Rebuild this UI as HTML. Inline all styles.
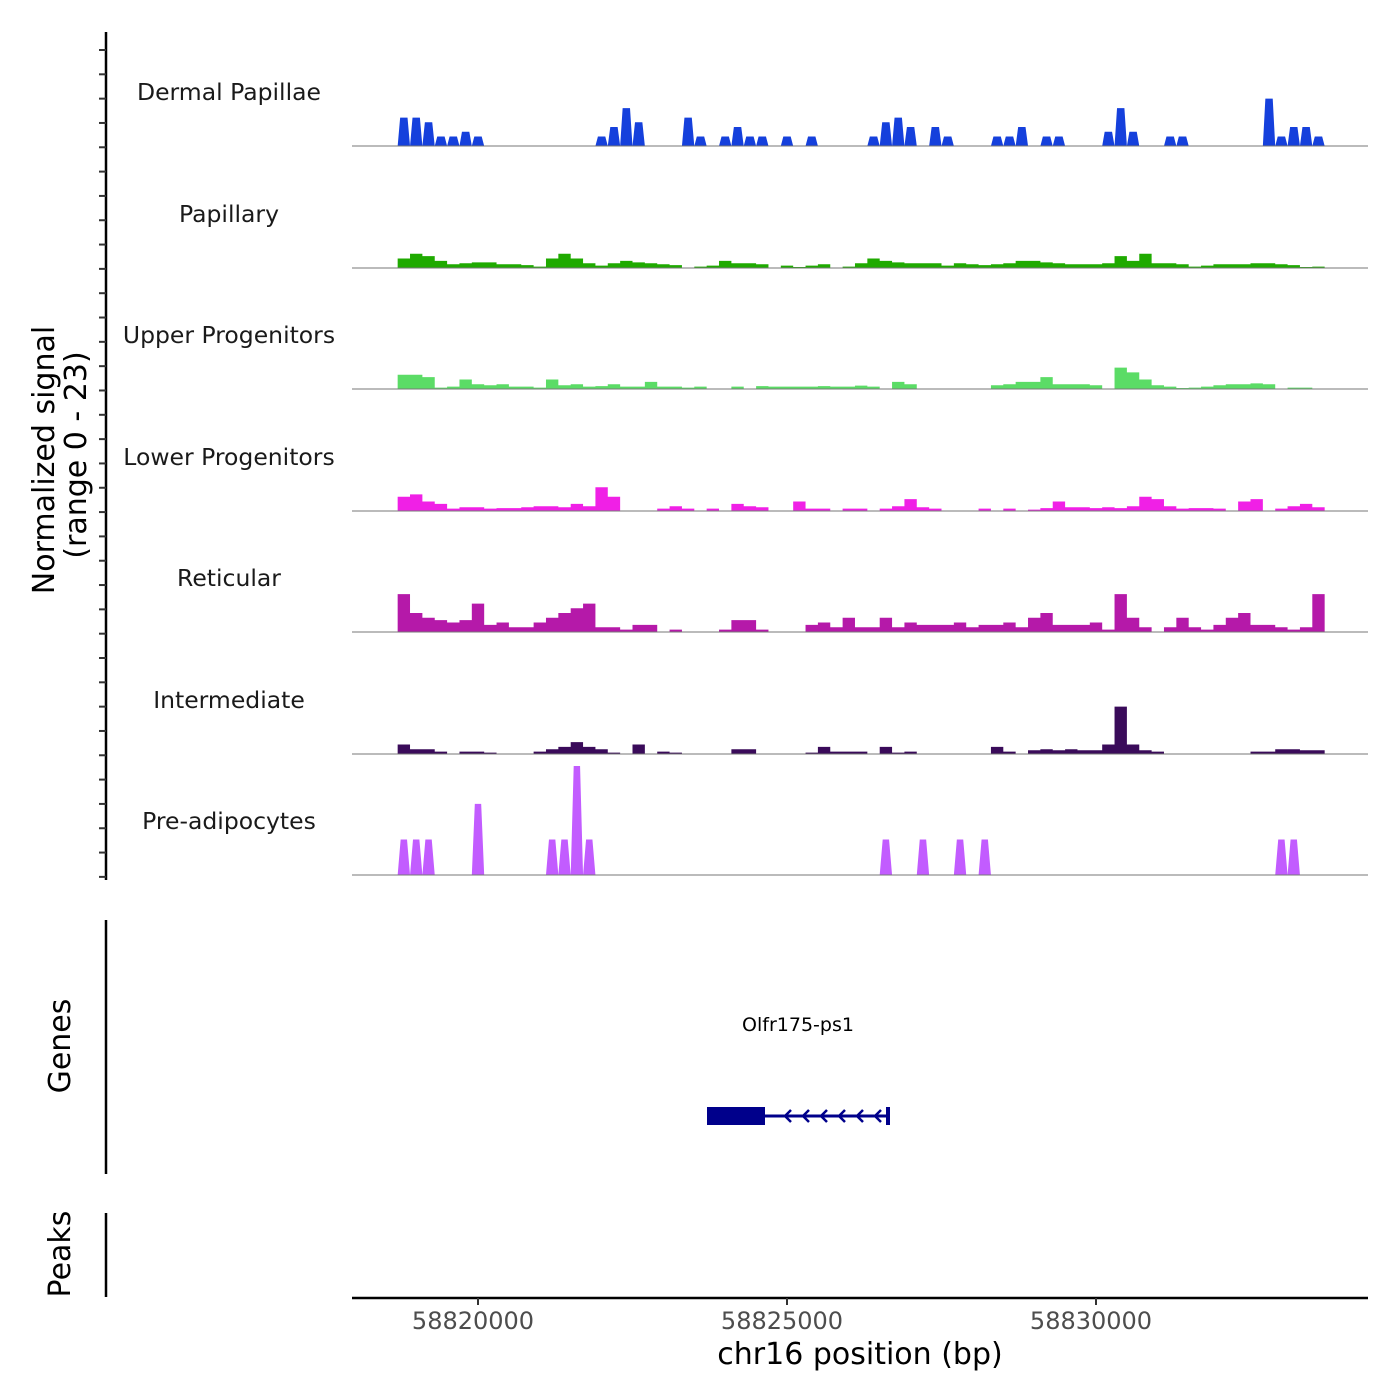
<!DOCTYPE html>
<html><head><meta charset="utf-8"><style>
body{margin:0;background:#fff;}
svg{display:block;font-family:"DejaVu Sans","Liberation Sans",sans-serif;}
</style></head><body>
<svg id="chart" width="1400" height="1400" viewBox="0 0 1400 1400" xmlns="http://www.w3.org/2000/svg">
<g id="left-axis"></g>
<text transform="translate(54,460) rotate(-90)" text-anchor="middle" font-size="30" fill="#000">Normalized signal</text>
<text transform="translate(86,455) rotate(-90)" text-anchor="middle" font-size="30" fill="#000">(range 0 - 23)</text>
<g id="tracks"></g>
<line x1="106" y1="920" x2="106" y2="1174" stroke="#000" stroke-width="2.5"/>
<text transform="translate(70,1046) rotate(-90)" text-anchor="middle" font-size="30" fill="#000">Genes</text>
<g>
<text x="798" y="1031" text-anchor="middle" font-size="19" fill="#000">Olfr175-ps1</text>
<rect x="707" y="1107" width="58" height="18" fill="#00008b"/>
<line x1="765" y1="1116" x2="888" y2="1116" stroke="#00008b" stroke-width="3"/>
<rect x="886" y="1107" width="4" height="18" fill="#00008b"/>
<g id="arrows"></g>
</g>
<line x1="106" y1="1213" x2="106" y2="1297" stroke="#000" stroke-width="2.5"/>
<text transform="translate(70,1254) rotate(-90)" text-anchor="middle" font-size="30" fill="#000">Peaks</text>
<g id="xaxis"></g>
<text x="860" y="1364" text-anchor="middle" font-size="30" fill="#000">chr16 position (bp)</text>
</svg>
<script>
const trackNames = ["Dermal Papillae","Papillary","Upper Progenitors","Lower Progenitors","Reticular","Intermediate","Pre-adipocytes"];
const trackColors = ["#1540dc","#1faa00","#5bdc66","#f020e6","#b519a9","#3a0b5a","#c25cff"];
const binStart = 58818700;
const binSize = 200;
const xTicks = [58820000,58825000,58830000];
const dermalPapillae = [6,6,5,2,2,3,2,0,0,0,0,0,0,0,0,0,2,4,8,5,0,0,0,6,2,0,2,4,2,2,0,2,0,2,0,0,0,0,2,5,6,4,0,4,2,0,0,0,2,2,4,0,2,2,0,0,0,3,8,3,0,0,2,2,0,0,0,0,0,0,10,2,4,4,2];
const papillary = [2,3,2.5,1.5,0.8,1,1.2,1.2,0.8,0.8,0.6,0.3,2,3,2,1,0.5,1,1.5,1.2,1,0.8,0.6,0,0.3,0.5,1.5,1,1,0.8,0,0.5,0.2,0.5,0.8,0,0.3,1,2,1.5,1.2,1,1,1,0.5,1,0.8,0.6,0.8,1,1.5,1.5,1.2,1,0.8,0.8,0.8,1,2.5,1.5,3,1,1,0.8,0.3,0.5,0.8,0.8,0.8,1,1,0.8,0.6,0.2,0.3];
const upperProgenitors = [3,3,2.5,0.3,0.5,2,1,0.8,1,0.5,0.5,0.3,2,0.8,1,0.5,0.6,1,0.5,0.5,1.5,0.5,0.5,0.3,0.5,0,0,0.5,0,0.6,0.5,0.5,0.5,0.5,0.6,0.5,0.5,0.7,0.5,0,1.5,1,0,0,0,0,0,0,0.8,1,1.5,1.5,2.5,1,1,1,0.8,0,4.5,3.5,2,0.8,0.5,0.2,0.3,0.5,0.8,1,1,1.2,1,0,0.3,0.3,0];
const lowerProgenitors = [3,3.5,2,1.5,0.5,0.8,0.8,0.5,0.6,0.6,0.8,1,1,0.8,1.5,1,5,3,0,0,0,0.5,1,0.5,0,0.5,0,1.5,1,0.8,0,0,2,0.5,0.5,0,0.5,0.5,0,0.5,1,2.5,0.8,0.5,0,0,0,0.5,0,0.5,0,0.3,0.6,2,0.8,0.8,0.6,0.8,0.6,1,3,2.5,1,0.5,0.6,0.6,0.5,0,2,2.5,0,0.5,1,1.5,0.8];
const reticular = [8,4,3,2.5,2,2.5,6,1.5,2,1,1,2,3,4,5,6,1,1,0.5,1.5,1.5,0,0.5,0,0,0,0.5,2.5,2.5,0.5,0,0,0,1.5,2,1,3,1,1,3,1,2,1.5,1.5,1.5,2,1,1.5,1.5,2,1,3,4,1.5,1.5,1.5,2,0.5,8,3,1,0,1,3,1,0.5,1.5,3,4,1.5,1.5,1,0.5,1,8];
const intermediate = [2,1,1,0.5,0,0.5,0.5,0.3,0,0,0,0.5,1,1.5,2.5,1.5,1,0.3,0,2,0,0.5,0.3,0,0,0,0,1,1,0,0,0,0,0.3,1.5,0.5,0.5,0.5,0,1.5,0.3,0.5,0,0,0,0,0,0,1.5,0.5,0,0.8,1,0.8,1,0.8,0.8,2,10,2,0.8,0.5,0,0,0,0,0,0,0,0.5,0.5,1,1,0.8,0.8];
const preAdipocytes = [7.5,7.5,7.5,0,0,0,15,0,0,0,0,0,7.5,7.5,23,7.5,0,0,0,0,0,0,0,0,0,0,0,0,0,0,0,0,0,0,0,0,0,0,0,7.5,0,0,7.5,0,0,7.5,0,7.5,0,0,0,0,0,0,0,0,0,0,0,0,0,0,0,0,0,0,0,0,0,0,0,7.5,7.5,0,0];
const seriesList = [dermalPapillae,papillary,upperProgenitors,lowerProgenitors,reticular,intermediate,preAdipocytes];

const NS="http://www.w3.org/2000/svg";
const X0=352, X1=1368;
const insets=[2.5,0,0,0,0,0,3];
function xScale(bp){return 478+(bp-58820000)*(309/5000);}
const baselines=[146,268,389,511,632,754,875];
function yScale(v,t){return baselines[t]-v*(109/23);}
function mk(tag,attrs,parent){const e=document.createElementNS(NS,tag);for(const k in attrs)e.setAttribute(k,attrs[k]);parent.appendChild(e);return e;}

const la=document.getElementById('left-axis');
const axl=mk('line',{x1:106,y1:32,x2:106,y2:880,stroke:'#000','stroke-width':2.5},la);


for(let y=50;y<=880;y+=24.32){
  const t=mk('line',{x1:99,y1:y,x2:106,y2:y,stroke:'#333','stroke-width':2},la);
  
  
}

const tg=document.getElementById('tracks');
seriesList.forEach((vals,t)=>{
  const g=mk('g',{},tg);
  
  
  const lab=mk('text',{x:229,y:baselines[t]-46,'text-anchor':'middle','font-size':23.5,fill:'#1a1a1a'},g);
  lab.textContent=trackNames[t];
  
  
  const ins=insets[t];
  let d='M'+xScale(binStart)+','+baselines[t];
  vals.forEach((v,i)=>{
    const xa=xScale(binStart+i*binSize), xb=xScale(binStart+(i+1)*binSize);
    const y=yScale(v,t);
    if(ins>0){
      d+=' L'+xa+','+baselines[t]+' L'+(xa+ins)+','+y+' L'+(xb-ins)+','+y+' L'+xb+','+baselines[t];
    } else {
      d+=' L'+xa+','+y+' L'+xb+','+y;
    }
  });
  d+=' L'+xScale(binStart+vals.length*binSize)+','+baselines[t]+' Z';
  const p=mk('path',{d:d,fill:trackColors[t],stroke:'none'},g);
  
  
  const bl=mk('line',{x1:X0,y1:baselines[t],x2:X1,y2:baselines[t],stroke:'#777','stroke-width':1},g);
  
  
});

const ar=document.getElementById('arrows');
[785,803,821,839,857,875].forEach(x=>{
  const a=mk('polyline',{points:(x+6)+',1110 '+x+',1116 '+(x+6)+',1122',fill:'none',stroke:'#00008b','stroke-width':2.5},ar);
  
  
});

const xa=document.getElementById('xaxis');
const xl=mk('line',{x1:X0,y1:1298,x2:X1,y2:1298,stroke:'#000','stroke-width':2.5},xa);


xTicks.forEach(v=>{
  const x=xScale(v);
  const tk=mk('line',{x1:x,y1:1298,x2:x,y2:1305,stroke:'#333','stroke-width':2},xa);
  
  
  const tl=mk('text',{x:x-5,y:1329,'text-anchor':'middle','font-size':24,fill:'#4d4d4d'},xa);
  tl.textContent=v;
  
  
});
</script>
</body></html>
